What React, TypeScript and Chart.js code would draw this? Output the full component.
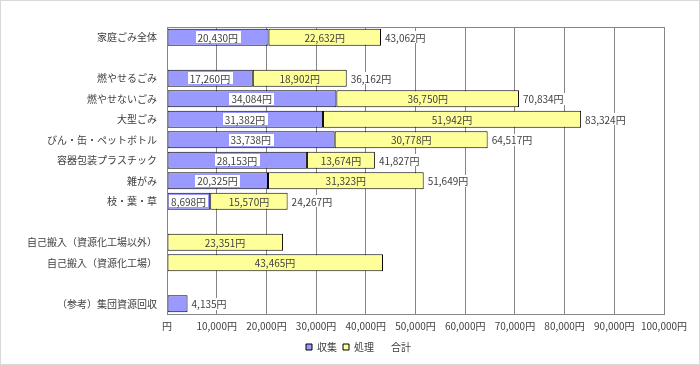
import React, { useEffect, useRef } from "react";
import { Chart, registerables } from "chart.js";
Chart.register(...registerables);

const FONT = "'Noto Sans CJK JP', 'Noto Sans', sans-serif";
const TXT = "#404040";
const BLUE = "#9999FF";
const YELLOW = "#FFFF99";
const GRID = "#868686";

const categories = [
  "家庭ごみ全体",
  "",
  "燃やせるごみ",
  "燃やせないごみ",
  "大型ごみ",
  "びん・缶・ペットボトル",
  "容器包装プラスチック",
  "雑がみ",
  "枝・葉・草",
  " ",
  "自己搬入（資源化工場以外）",
  "自己搬入（資源化工場）",
  "  ",
  "（参考）集団資源回収",
];
const collection: (number | null)[] = [20430, null, 17260, 34084, 31382, 33738, 28153, 20325, 8698, null, null, null, null, 4135];
const processing: (number | null)[] = [22632, null, 18902, 36750, 51942, 30778, 13674, 31323, 15570, null, 23351, 43465, null, null];
const totals: (number | null)[] = [43062, null, 36162, 70834, 83324, 64517, 41827, 51649, 24267, null, null, null, null, 4135];
const showCollectionLabel = [true, false, true, true, true, true, true, true, true, false, false, false, false, false];
const xTicks = [0, 10000, 20000, 30000, 40000, 50000, 60000, 70000, 80000, 90000, 100000];
const seriesNames = ["収集", "処理", "合計"];

const fmt = (v: number) => (v === 0 ? "円" : v.toLocaleString("en-US") + "円");

function boxedText(ctx: CanvasRenderingContext2D, text: string, x: number, y: number, align: "center" | "left", bg: string | null) {
  const w = ctx.measureText(text).width;
  const h = 12;
  let left = align === "center" ? x - w / 2 - 2 : x;
  if (bg) {
    ctx.fillStyle = bg;
    ctx.fillRect(Math.round(left), Math.round(y - h / 2), Math.round(w + 4), h);
  }
  ctx.fillStyle = TXT;
  ctx.textAlign = "left";
  ctx.fillText(text, left + 2, y + 0.5);
}

const labelPlugin = {
  id: "barLabels",
  afterDatasetsDraw(chart: any) {
    const ctx = chart.ctx as CanvasRenderingContext2D;
    const xs = chart.scales.x;
    const ys = chart.scales.y;
    ctx.save();
    ctx.font = `10px ${FONT}`;
    ctx.textBaseline = "middle";
    categories.forEach((_, i) => {
      const y = ys.getPixelForValue(i);
      const c = collection[i];
      const p = processing[i];
      const t = totals[i];
      if (c != null && showCollectionLabel[i]) {
        const x = (xs.getPixelForValue(0) + xs.getPixelForValue(c)) / 2;
        boxedText(ctx, fmt(c), x, y, "center", "#ffffff");
      }
      if (p != null) {
        const s = c ?? 0;
        const x = (xs.getPixelForValue(s) + xs.getPixelForValue(s + p)) / 2;
        boxedText(ctx, fmt(p), x, y, "center", null);
      }
      if (t != null) {
        const end = Math.max(t, (c ?? 0) + (p ?? 0));
        const x = xs.getPixelForValue(end) + 2;
        boxedText(ctx, fmt(t), x, y, "left", "#ffffff");
      }
    });
    ctx.restore();
  },
};

const framePlugin = {
  id: "frames",
  afterDraw(chart: any) {
    const ctx = chart.ctx as CanvasRenderingContext2D;
    const a = chart.chartArea;
    ctx.save();
    ctx.strokeStyle = GRID;
    ctx.lineWidth = 1;
    ctx.strokeRect(Math.round(a.left) + 0.5, Math.round(a.top) + 0.5, Math.round(a.right - a.left), Math.round(a.bottom - a.top));
    ctx.strokeStyle = "#d9d9d9";
    ctx.strokeRect(0.5, 0.5, chart.width - 1, chart.height - 1);
    ctx.restore();
  },
};

const bgPlugin = {
  id: "bg",
  beforeDraw(chart: any) {
    const ctx = chart.ctx;
    ctx.save();
    ctx.fillStyle = "#ffffff";
    ctx.fillRect(0, 0, chart.width, chart.height);
    ctx.restore();
  },
};

export default function App() {
  const ref = useRef<HTMLCanvasElement | null>(null);
  useEffect(() => {
    if (!ref.current) return;
    const chart = new Chart(ref.current, {
      type: "bar",
      data: {
        labels: categories,
        datasets: [
          {
            label: seriesNames[0],
            data: collection,
            backgroundColor: BLUE,
            borderColor: "#000000",
            borderWidth: 1,
            borderSkipped: false,
            categoryPercentage: 1,
            barPercentage: 0.84,
            stack: "a",
          },
          {
            label: seriesNames[1],
            data: processing,
            backgroundColor: YELLOW,
            borderColor: "#000000",
            borderWidth: 1,
            borderSkipped: false,
            categoryPercentage: 1,
            barPercentage: 0.84,
            stack: "a",
          },
        ],
      } as any,
      options: {
        indexAxis: "y",
        responsive: false,
        animation: false,
        devicePixelRatio: 1,
        layout: { padding: { top: 27, right: 0, left: 0, bottom: 3 } },
        plugins: {
          tooltip: { enabled: false },
          legend: {
            position: "bottom",
            labels: {
              font: { family: FONT, size: 10 },
              color: TXT,
              boxWidth: 6,
              boxHeight: 6,
              padding: 6,
              generateLabels: (ch: any) => {
                const items = (Chart.defaults.plugins.legend.labels as any).generateLabels(ch);
                items.forEach((it: any) => {
                  it.strokeStyle = "#000000";
                  it.lineWidth = 1;
                  it.fontColor = TXT;
                });
                const blank = {
                  fillStyle: "rgba(0,0,0,0)",
                  strokeStyle: "rgba(0,0,0,0)",
                  lineWidth: 0,
                  hidden: false,
                  fontColor: TXT,
                };
                items.unshift({ ...blank, text: "", datasetIndex: 3 });
                items.push({ ...blank, text: seriesNames[2], datasetIndex: 2 });
                return items;
              },
            },
          },
        },
        scales: {
          x: {
            stacked: true,
            min: 0,
            max: 100000,
            afterBuildTicks: (s: any) => {
              s.ticks = xTicks.map((v) => ({ value: v }));
            },
            afterFit: (s: any) => {
              s.height = 22;
              s.paddingRight = 36;
            },
            ticks: {
              callback: (v: any) => fmt(Number(v)),
              font: { family: FONT, size: 10 },
              color: TXT,
              padding: 6,
              maxRotation: 0,
            },
            grid: { color: GRID, drawTicks: false },
            border: { color: GRID },
          },
          y: {
            stacked: true,
            afterFit: (s: any) => {
              s.width = 167;
            },
            ticks: {
              font: { family: FONT, size: 10 },
              color: TXT,
              padding: 10,
              autoSkip: false,
            },
            grid: { display: false, drawTicks: false },
            border: { color: GRID },
          },
        },
      } as any,
      plugins: [bgPlugin, labelPlugin, framePlugin],
    });
    return () => chart.destroy();
  }, []);
  return (
    <div style={{ position: "fixed", left: 0, top: 0, width: 700, height: 365 }}>
      <canvas ref={ref} width={700} height={365} style={{ width: 700, height: 365, display: "block" }} />
    </div>
  );
}
